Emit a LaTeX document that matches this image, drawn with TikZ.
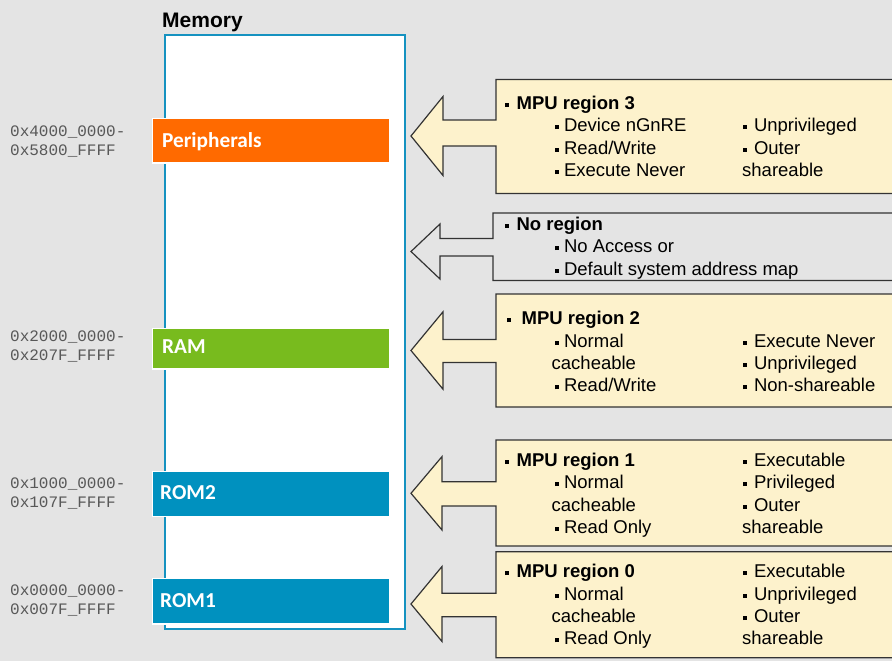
\documentclass[tikz,border=0pt]{standalone}
\usepackage{fontspec}
\setmainfont{Liberation Sans}
\newfontfamily\carl{Carlito}
\newfontfamily\monof{Liberation Mono}
\definecolor{bgcol}{HTML}{E4E4E4}
\definecolor{memblue}{HTML}{1592C0}
\definecolor{orangebar}{HTML}{FF6A00}
\definecolor{greenbar}{HTML}{78BB1E}
\definecolor{bluebar}{HTML}{0091BF}
\definecolor{boxyellow}{HTML}{FDF2CC}
\definecolor{boxline}{HTML}{333333}
\definecolor{addrcol}{HTML}{585858}
\newcommand\bul{\raisebox{2.5pt}{\rule{4pt}{4pt}}}
% #1 fill, #2 box left, #3 box top, #4 box bottom, #5 head base x, #6 tip y, #7 head half, #8 shaft top, #9 shaft bottom
\newcommand\mpuarrow[9]{%
  \draw[arrowbox, fill=#1] (900,#3) -- (#2,#3) -- (#2,#8) -- (#5,#8) -- (#5,{#6-#7}) -- (411,#6)
    -- (#5,{#6+#7}) -- (#5,#9) -- (#2,#9) -- (#2,#4) -- (900,#4);}
\begin{document}
\begin{tikzpicture}[x=1pt,y=-1pt,
  arrowbox/.style={draw=boxline, line width=1.2pt, line join=miter},
  bar/.style={draw=white, line width=1.5pt, anchor=north west, inner sep=0, minimum width=237.5pt},
  barlabel/.style={anchor=base west, inner sep=0, text=white, font=\carl\bfseries\fontsize{21.3}{25}\selectfont},
  addr/.style={anchor=base west, inner sep=0, text=addrcol, font=\monof\fontsize{16}{19}\selectfont},
  txt/.style={anchor=base west, inner sep=0, text=black, font=\fontsize{18.5}{22}\selectfont}]
\useasboundingbox (0,0) rectangle (892,661);
\fill[bgcol] (0,0) rectangle (892,661);

% memory
\node (memlabel) [anchor=base west, inner sep=0, font=\bfseries\fontsize{21}{24}\selectfont] at (162,27.3) {Memory};
\node (mem) [draw=memblue, line width=2.2pt, fill=white, anchor=north west, inner sep=0,
  minimum width=239.8pt, minimum height=593.8pt] at (164.1,34.1) {};

\node (perbar) [bar, fill=orangebar, minimum height=44.5pt] at (151.75,117.75) {};
\node (rambar) [bar, fill=greenbar, minimum height=40.5pt] at (151.75,327.75) {};
\node (rom2bar) [bar, fill=bluebar, minimum height=44.75pt] at (151.75,470.75) {};
\node (rom1bar) [bar, fill=bluebar, minimum height=45.5pt] at (151.75,577.75) {};

\node (perlbl) [barlabel] at (162,147.7) {Peripherals};
\node (ramlbl) [barlabel] at (162,353.5) {RAM};
\node (rom2lbl) [barlabel] at (160,499) {ROM2};
\node (rom1lbl) [barlabel] at (160,607) {ROM1};

% addresses
\node (a3a) [addr] at (10,136) {0x4000\_0000-};
\node (a3b) [addr] at (10,155.5) {0x5800\_FFFF};
\node (a2a) [addr] at (10,341.7) {0x2000\_0000-};
\node (a2b) [addr] at (10,360.7) {0x207F\_FFFF};
\node (a1a) [addr] at (10,488.3) {0x1000\_0000-};
\node (a1b) [addr] at (10,507.3) {0x107F\_FFFF};
\node (a0a) [addr] at (10,595.7) {0x0000\_0000-};
\node (a0b) [addr] at (10,614.3) {0x007F\_FFFF};

% arrows
\mpuarrow{boxyellow}{496}{79.5}{193.5}{443}{136}{39.5}{120}{146}
\mpuarrow{bgcol}{493}{213}{280.5}{440}{251.5}{27.5}{238.5}{256}
\mpuarrow{boxyellow}{496}{294}{407}{443}{350.5}{38.7}{339.5}{362.5}
\mpuarrow{boxyellow}{496}{440}{546}{442}{493.3}{36.7}{481.7}{506}
\mpuarrow{boxyellow}{496}{551.7}{657.7}{442}{604}{37.5}{593.3}{616.7}

% region 3
\node (r3h) [txt] at (505,109.3) {\bul\hspace{7.4pt}\textbf{MPU region 3}};
\node (r3a) [txt] at (554.3,131.7) {\bul\hspace{5.6pt}Device nGnRE};
\node (r3b) [txt] at (554.3,154.1) {\bul\hspace{5.6pt}Read/Write};
\node (r3c) [txt] at (554.3,176.5) {\bul\hspace{5.6pt}Execute Never};
\node (r3d) [txt] at (742.5,131.7) {\bul\hspace{7.3pt}Unprivileged};
\node (r3e) [txt] at (742.5,154.1) {\bul\hspace{7.3pt}Outer};
\node (r3f) [txt] at (742,176.5) {shareable};

% no region
\node (nrh) [txt] at (505,230.3) {\bul\hspace{7.4pt}\textbf{No region}};
\node (nra) [txt] at (554.3,252.7) {\bul\hspace{5.6pt}No Access or};
\node (nrb) [txt] at (554.3,275.1) {\bul\hspace{5.6pt}Default system address map};

% region 2
\node (r2h) [txt] at (506.5,324.6) {\bul\hspace{11pt}\textbf{MPU region 2}};
\node (r2a) [txt] at (554.3,347) {\bul\hspace{5.6pt}Normal};
\node (r2b) [txt] at (551.5,369.4) {cacheable};
\node (r2c) [txt] at (554.3,391.8) {\bul\hspace{5.6pt}Read/Write};
\node (r2d) [txt] at (742.5,347) {\bul\hspace{7.3pt}Execute Never};
\node (r2e) [txt] at (742.5,369.4) {\bul\hspace{7.3pt}Unprivileged};
\node (r2f) [txt] at (742.5,391.8) {\bul\hspace{7.3pt}Non-shareable};

% region 1
\node (r1h) [txt] at (505,466.3) {\bul\hspace{7.4pt}\textbf{MPU region 1}};
\node (r1a) [txt] at (554.3,488.7) {\bul\hspace{5.6pt}Normal};
\node (r1b) [txt] at (551.5,511.1) {cacheable};
\node (r1c) [txt] at (554.3,533.5) {\bul\hspace{5.6pt}Read Only};
\node (r1d) [txt] at (742.5,466.3) {\bul\hspace{7.3pt}Executable};
\node (r1e) [txt] at (742.5,488.7) {\bul\hspace{7.3pt}Privileged};
\node (r1f) [txt] at (742.5,511.1) {\bul\hspace{7.3pt}Outer};
\node (r1g) [txt] at (742,533.5) {shareable};

% region 0
\node (r0h) [txt] at (505,577.7) {\bul\hspace{7.4pt}\textbf{MPU region 0}};
\node (r0a) [txt] at (554.3,600.1) {\bul\hspace{5.6pt}Normal};
\node (r0b) [txt] at (551.5,622.5) {cacheable};
\node (r0c) [txt] at (554.3,644.9) {\bul\hspace{5.6pt}Read Only};
\node (r0d) [txt] at (742.5,577.7) {\bul\hspace{7.3pt}Executable};
\node (r0e) [txt] at (742.5,600.1) {\bul\hspace{7.3pt}Unprivileged};
\node (r0f) [txt] at (742.5,622.5) {\bul\hspace{7.3pt}Outer};
\node (r0g) [txt] at (742,644.9) {shareable};
\end{tikzpicture}
\end{document}
